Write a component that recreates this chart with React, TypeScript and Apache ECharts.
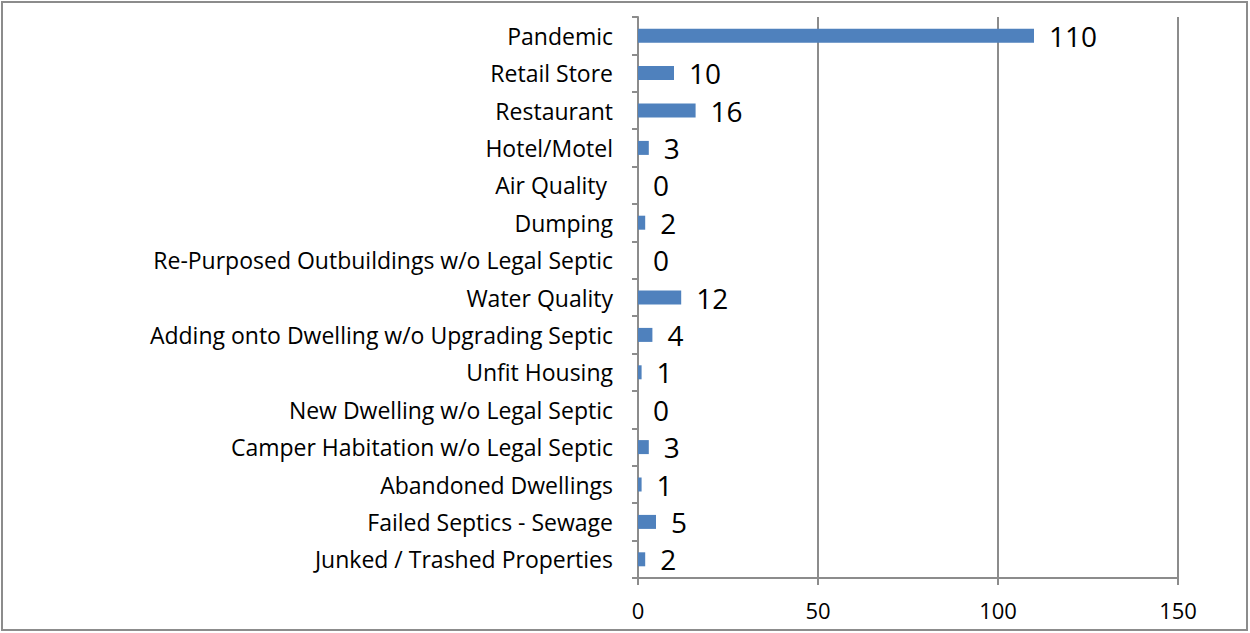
import React, { useEffect, useRef } from "react";
import * as echarts from "echarts";

const categories = [
  "Pandemic",
  "Retail Store",
  "Restaurant",
  "Hotel/Motel",
  "Air Quality ",
  "Dumping",
  "Re-Purposed Outbuildings w/o Legal Septic",
  "Water Quality",
  "Adding onto Dwelling w/o Upgrading Septic",
  "Unfit Housing",
  "New Dwelling w/o Legal Septic",
  "Camper Habitation w/o Legal Septic",
  "Abandoned Dwellings",
  "Failed Septics - Sewage",
  "Junked / Trashed Properties",
];
const values = [110, 10, 16, 3, 0, 2, 0, 12, 4, 1, 0, 3, 1, 5, 2];
const xTicks = [0, 50, 100, 150];

export default function App() {
  const ref = useRef<HTMLDivElement>(null);
  useEffect(() => {
    document.body.style.margin = "0";
    const chart = echarts.init(ref.current!, null, { renderer: "svg" });
    const font = "Open Sans";
    chart.setOption({
      animation: false,
      backgroundColor: "#fff",
      graphic: [
        {
          type: "rect",
          shape: { x: 2, y: 2, width: 1245, height: 628 },
          style: { fill: "none", stroke: "#8c8c8c", lineWidth: 2 },
          silent: true,
        },
      ],
      grid: { left: 638, right: 72, top: 17, bottom: 55 },
      xAxis: {
        type: "value",
        min: xTicks[0],
        max: xTicks[xTicks.length - 1],
        interval: 50,
        axisLine: { show: true, lineStyle: { color: "#8c8c8c", width: 2 } },
        axisTick: { show: true, length: 7, lineStyle: { color: "#8c8c8c", width: 2 } },
        splitLine: { show: true, lineStyle: { color: "#8c8c8c", width: 2 } },
        axisLabel: { color: "#000", fontFamily: font, fontSize: 22, margin: 21 },
      },
      yAxis: {
        type: "category",
        data: categories,
        inverse: true,
        axisLine: { show: true, lineStyle: { color: "#8c8c8c", width: 2 } },
        axisTick: { show: true, length: 6, lineStyle: { color: "#8c8c8c", width: 2 } },
        axisLabel: { color: "#000", fontFamily: font, fontSize: 23, margin: 25 },
      },
      series: [
        {
          type: "bar",
          data: values,
          barWidth: 14,
          itemStyle: { color: "#4F81BD" },
          label: {
            show: true,
            position: "right",
            distance: 15,
            color: "#000",
            fontFamily: font,
            fontSize: 28,
          },
        },
      ],
    });
    return () => chart.dispose();
  }, []);
  return <div ref={ref} style={{ width: 1250, height: 633 }} />;
}
